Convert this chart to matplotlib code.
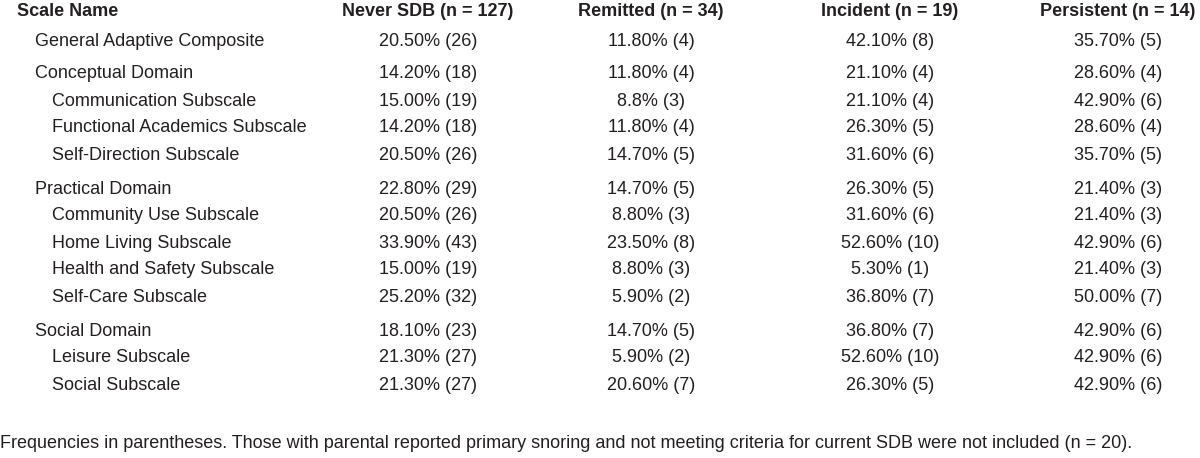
import matplotlib
matplotlib.use("Agg")
import matplotlib.pyplot as plt

headers = ["Scale Name", "Never SDB (n = 127)", "Remitted (n = 34)",
           "Incident (n = 19)", "Persistent (n = 14)"]

scale_names = [
    "General Adaptive Composite",
    "Conceptual Domain",
    "Communication Subscale",
    "Functional Academics Subscale",
    "Self-Direction Subscale",
    "Practical Domain",
    "Community Use Subscale",
    "Home Living Subscale",
    "Health and Safety Subscale",
    "Self-Care Subscale",
    "Social Domain",
    "Leisure Subscale",
    "Social Subscale",
]
# 1 = composite/domain, 2 = subscale
levels = [1, 1, 2, 2, 2, 1, 2, 2, 2, 2, 1, 2, 2]

never_sdb = ["20.50% (26)", "14.20% (18)", "15.00% (19)", "14.20% (18)",
             "20.50% (26)", "22.80% (29)", "20.50% (26)", "33.90% (43)",
             "15.00% (19)", "25.20% (32)", "18.10% (23)", "21.30% (27)",
             "21.30% (27)"]
remitted = ["11.80% (4)", "11.80% (4)", "8.8% (3)", "11.80% (4)",
            "14.70% (5)", "14.70% (5)", "8.80% (3)", "23.50% (8)",
            "8.80% (3)", "5.90% (2)", "14.70% (5)", "5.90% (2)",
            "20.60% (7)"]
incident = ["42.10% (8)", "21.10% (4)", "21.10% (4)", "26.30% (5)",
            "31.60% (6)", "26.30% (5)", "31.60% (6)", "52.60% (10)",
            "5.30% (1)", "36.80% (7)", "36.80% (7)", "52.60% (10)",
            "26.30% (5)"]
persistent = ["35.70% (5)", "28.60% (4)", "42.90% (6)", "28.60% (4)",
              "35.70% (5)", "21.40% (3)", "21.40% (3)", "42.90% (6)",
              "21.40% (3)", "50.00% (7)", "42.90% (6)", "42.90% (6)",
              "42.90% (6)"]

footnote = ("Frequencies in parentheses. Those with parental reported primary "
            "snoring and not meeting criteria for current SDB were not included (n = 20).")

plt.rcParams['font.family'] = ['Liberation Sans', 'DejaVu Sans']

fig = plt.figure(figsize=(12, 4.58), dpi=100)
ax = fig.add_axes([0, 0, 1, 1])
ax.set_xlim(0, 1200)
ax.set_ylim(458, 0)
ax.axis("off")

col_centers = [428, 651, 890, 1118]
text_color = "#231f20"
fs = 13

ax.text(17, 11, headers[0], ha="left", va="center", fontsize=fs,
        fontweight="bold", color=text_color)
for cx, h in zip(col_centers, headers[1:]):
    ax.text(cx, 11, h, ha="center", va="center", fontsize=fs,
            fontweight="bold", color=text_color)

row_y = [41, 74, 101, 128, 155, 189, 216, 243, 270, 297, 331, 358, 385]
indent = {1: 35, 2: 52}
columns = [never_sdb, remitted, incident, persistent]

for i, name in enumerate(scale_names):
    y = row_y[i]
    ax.text(indent[levels[i]], y, name, ha="left", va="center",
            fontsize=fs, color=text_color)
    for cx, col in zip(col_centers, columns):
        ax.text(cx, y, col[i], ha="center", va="center", fontsize=fs,
                color=text_color)

ax.text(0, 444, footnote, ha="left", va="center", fontsize=fs,
        color=text_color)

fig.savefig("out.png", dpi=100)
